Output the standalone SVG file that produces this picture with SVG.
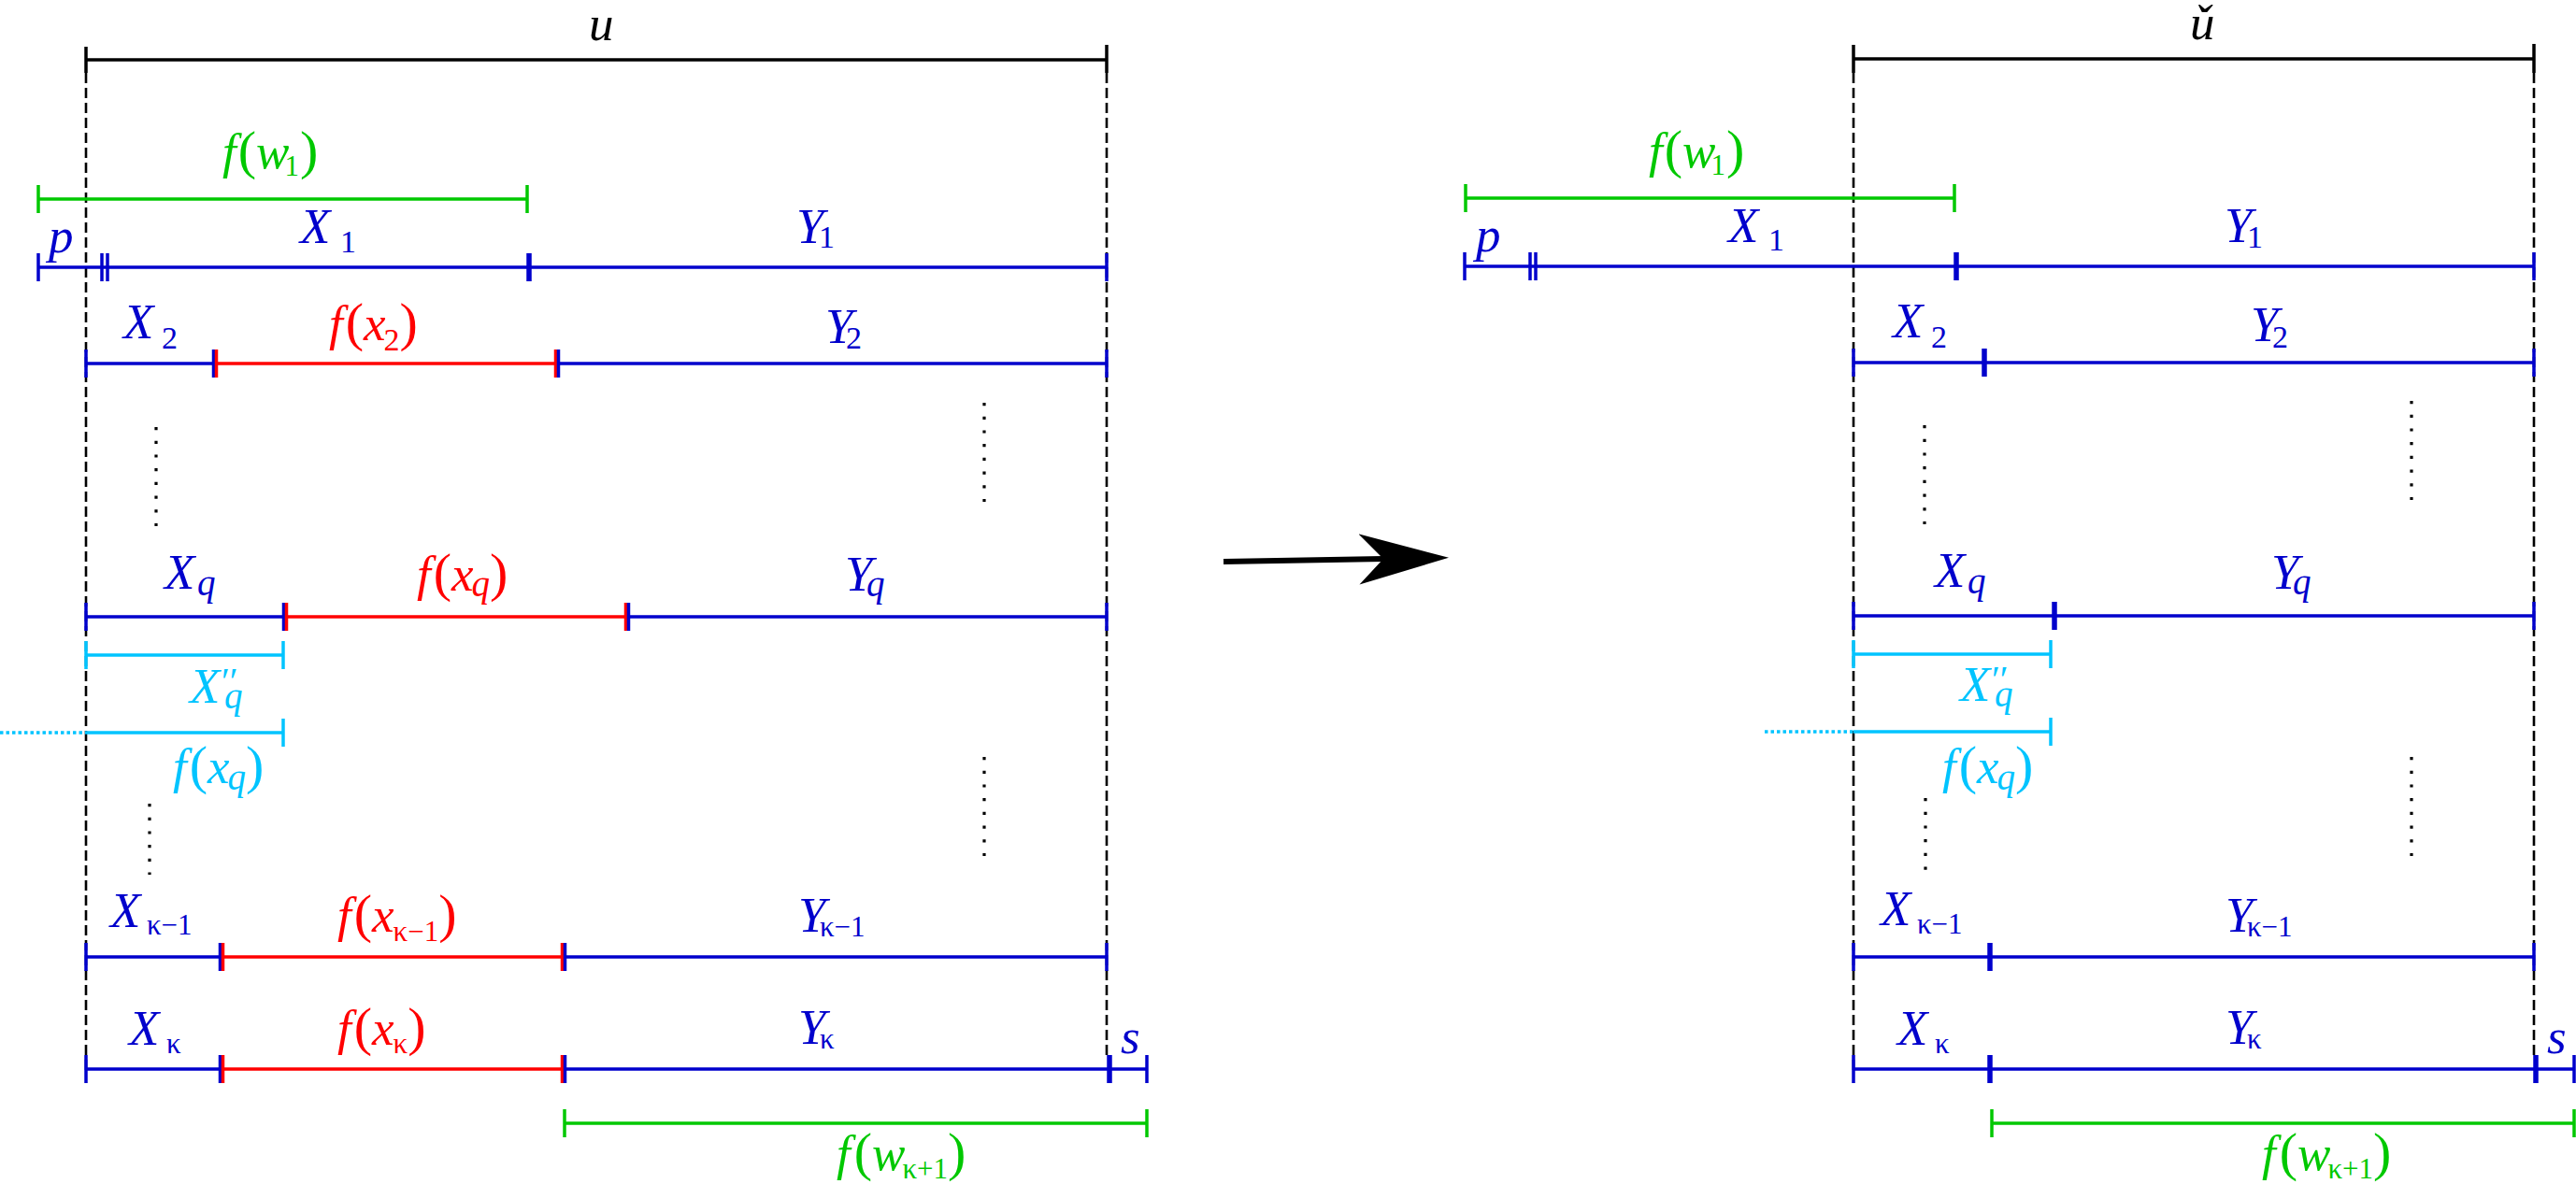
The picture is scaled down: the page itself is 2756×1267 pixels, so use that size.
<svg xmlns="http://www.w3.org/2000/svg" width="2756" height="1267" viewBox="0 0 2756 1267">
<style>
.b{stroke:#0000cc;stroke-width:3.5;fill:none}
.r{stroke:#ff0000;stroke-width:3.5;fill:none}
.g{stroke:#00c800;stroke-width:3.5;fill:none}
.c{stroke:#00c4ff;stroke-width:3.5;fill:none}
.k{stroke:#000;stroke-width:3.5;fill:none}
.tk{stroke-width:5.5}
.dash{stroke:#000;stroke-width:2.6;stroke-dasharray:11 5;fill:none}
.dots{stroke:#000;stroke-width:3.2;stroke-dasharray:3.2 11.5;fill:none}
.cdot{stroke:#00c4ff;stroke-width:3.5;stroke-dasharray:3.5 3;fill:none}
text{font-family:"Liberation Serif","Times New Roman",serif;font-style:italic;font-size:53px}
.n{font-style:normal;font-size:58px}
.s{font-style:normal;font-size:34px}
.sk{font-style:normal;font-size:31px}
.sq{font-style:italic;font-size:39px}
.pr{font-style:normal;font-size:40px}
.tb{fill:#0000cc}.tr{fill:#ff0000}.tg{fill:#00c800}.tc{fill:#00c4ff}.tkk{fill:#000}
</style>
<defs>
<marker id="ah" markerUnits="userSpaceOnUse" markerWidth="100" markerHeight="60" refX="26" refY="27" orient="auto">
<path d="M0,0 L96,27 L0,54 L26,27 z" fill="#000"/>
</marker>
</defs>

<!-- LEFT PANEL -->
<g id="left-frame">
<line class="k" x1="92" y1="64" x2="1184" y2="64"/>
<line class="k" x1="92" y1="50" x2="92" y2="78"/>
<line class="k" x1="1184" y1="48" x2="1184" y2="78"/>
<line class="dash" x1="92" y1="78" x2="92" y2="1150"/>
<line class="dash" x1="1184" y1="78" x2="1184" y2="1132"/>
<text class="tkk" x="630" y="43">u</text>
</g>
<g id="left-fw1">
<line class="g" x1="41" y1="213" x2="564" y2="213"/>
<line class="g" x1="41" y1="198" x2="41" y2="228"/>
<line class="g" x1="564" y1="198" x2="564" y2="228"/>
<text class="tg" x="238" y="180">f<tspan class="n" dx="2">(</tspan>w<tspan class="sk" dx="-5" y="188">1</tspan><tspan class="n" dx="1" y="180">)</tspan></text>
</g>
<g id="left-row1">
<line class="b" x1="41" y1="286" x2="1184" y2="286"/>
<line class="b" x1="41" y1="271" x2="41" y2="301"/>
<line class="b" x1="109" y1="271" x2="109" y2="301"/>
<line class="b" x1="115" y1="271" x2="115" y2="301"/>
<line class="b tk" x1="566" y1="271" x2="566" y2="301"/>
<line class="b" x1="1184" y1="271" x2="1184" y2="301"/>
<text class="tb" x="52" y="270">p</text>
<text class="tb" x="321" y="260">X<tspan class="s" x="364" y="270">1</tspan></text>
<text class="tb" x="852" y="260">Y<tspan class="s" x="876" y="265">1</tspan></text>
</g>
<g id="left-row2">
<line class="b" x1="92" y1="389" x2="230" y2="389"/>
<line class="r" x1="230" y1="389" x2="596" y2="389"/>
<line class="b" x1="596" y1="389" x2="1184" y2="389"/>
<line class="b" x1="92" y1="374" x2="92" y2="404"/>
<line class="b" x1="228.5" y1="374" x2="228.5" y2="404"/>
<line class="r" x1="231.5" y1="374" x2="231.5" y2="404"/>
<line class="r" x1="594.5" y1="374" x2="594.5" y2="404"/>
<line class="b" x1="597.5" y1="374" x2="597.5" y2="404"/>
<line class="b" x1="1184" y1="374" x2="1184" y2="404"/>
<text class="tb" x="132" y="362">X<tspan class="s" x="173" y="373">2</tspan></text>
<text class="tr" x="352" y="364">f<tspan class="n" dx="3">(</tspan>x<tspan class="s" dx="-2" y="375">2</tspan><tspan class="n" y="364">)</tspan></text>
<text class="tb" x="883" y="367">Y<tspan class="s" x="905" y="373">2</tspan></text>
</g>
<g id="left-dots-upper">
<line class="dots" x1="167" y1="457" x2="167" y2="566"/>
<line class="dots" x1="1053" y1="431" x2="1053" y2="540"/>
</g>
<g id="left-rowq">
<line class="b" x1="92" y1="660" x2="305" y2="660"/>
<line class="r" x1="305" y1="660" x2="671" y2="660"/>
<line class="b" x1="671" y1="660" x2="1184" y2="660"/>
<line class="b" x1="92" y1="645" x2="92" y2="675"/>
<line class="b" x1="303.5" y1="645" x2="303.5" y2="675"/>
<line class="r" x1="306.5" y1="645" x2="306.5" y2="675"/>
<line class="r" x1="669.5" y1="645" x2="669.5" y2="675"/>
<line class="b" x1="672.5" y1="645" x2="672.5" y2="675"/>
<line class="b" x1="1184" y1="645" x2="1184" y2="675"/>
<text class="tb" x="176" y="630">X<tspan class="sq" x="211" y="637">q</tspan></text>
<text class="tr" x="446" y="632">f<tspan class="n" dx="3">(</tspan>x<tspan class="sq" dx="-2" y="638">q</tspan><tspan class="n" y="632">)</tspan></text>
<text class="tb" x="904" y="632">Y<tspan class="sq" x="927" y="638">q</tspan></text>
</g>
<g id="left-xq2">
<line class="c" x1="92" y1="701" x2="303" y2="701"/>
<line class="c" x1="92" y1="686" x2="92" y2="716"/>
<line class="c" x1="303" y1="686" x2="303" y2="716"/>
<text class="tc" x="203" y="752">X<tspan class="sq" x="240" y="758">q</tspan><tspan class="pr" x="237" y="742">′′</tspan></text>
</g>
<g id="left-fxq-cyan">
<line class="cdot" x1="0" y1="784" x2="92" y2="784"/>
<line class="c" x1="92" y1="784" x2="303" y2="784"/>
<line class="c" x1="303" y1="769" x2="303" y2="799"/>
<text class="tc" x="185" y="838">f<tspan class="n" dx="3">(</tspan>x<tspan class="sq" dx="-2" y="845">q</tspan><tspan class="n" y="838">)</tspan></text>
</g>
<g id="left-dots-lower">
<line class="dots" x1="160" y1="860" x2="160" y2="936"/>
<line class="dots" x1="1053" y1="810" x2="1053" y2="917"/>
</g>
<g id="left-rowk1">
<line class="b" x1="92" y1="1024" x2="237" y2="1024"/>
<line class="r" x1="237" y1="1024" x2="603" y2="1024"/>
<line class="b" x1="603" y1="1024" x2="1184" y2="1024"/>
<line class="b" x1="92" y1="1009" x2="92" y2="1039"/>
<line class="b" x1="235.5" y1="1009" x2="235.5" y2="1039"/>
<line class="r" x1="238.5" y1="1009" x2="238.5" y2="1039"/>
<line class="r" x1="601.5" y1="1009" x2="601.5" y2="1039"/>
<line class="b" x1="604.5" y1="1009" x2="604.5" y2="1039"/>
<line class="b" x1="1184" y1="1009" x2="1184" y2="1039"/>
<text class="tb" x="118" y="992">X<tspan class="sk" x="157" y="1000">κ−1</tspan></text>
<text class="tr" x="361" y="997">f<tspan class="n" dx="3">(</tspan>x<tspan class="sk" dx="-1" y="1007">κ−1</tspan><tspan class="n" y="997">)</tspan></text>
<text class="tb" x="854" y="997">Y<tspan class="sk" x="877" y="1002">κ−1</tspan></text>
</g>
<g id="left-rowk">
<line class="b" x1="92" y1="1144" x2="237" y2="1144"/>
<line class="r" x1="237" y1="1144" x2="603" y2="1144"/>
<line class="b" x1="603" y1="1144" x2="1227" y2="1144"/>
<line class="b" x1="92" y1="1129" x2="92" y2="1159"/>
<line class="b" x1="235.5" y1="1129" x2="235.5" y2="1159"/>
<line class="r" x1="238.5" y1="1129" x2="238.5" y2="1159"/>
<line class="r" x1="601.5" y1="1129" x2="601.5" y2="1159"/>
<line class="b" x1="604.5" y1="1129" x2="604.5" y2="1159"/>
<line class="b tk" x1="1187" y1="1129" x2="1187" y2="1159"/>
<line class="b" x1="1227" y1="1129" x2="1227" y2="1159"/>
<text class="tb" x="138" y="1118">X<tspan class="sk" x="178" y="1127">κ</tspan></text>
<text class="tr" x="361" y="1118">f<tspan class="n" dx="3">(</tspan>x<tspan class="sk" dx="-1" y="1127">κ</tspan><tspan class="n" y="1118">)</tspan></text>
<text class="tb" x="854" y="1117">Y<tspan class="sk" x="877" y="1122">κ</tspan></text>
<text class="tb" x="1199" y="1127">s</text>
</g>
<g id="left-fwk1">
<line class="g" x1="604" y1="1202" x2="1227" y2="1202"/>
<line class="g" x1="604" y1="1187" x2="604" y2="1217"/>
<line class="g" x1="1227" y1="1187" x2="1227" y2="1217"/>
<text class="tg" x="895" y="1252">f<tspan class="n" dx="4">(</tspan>w<tspan class="sk" dx="-3" y="1261">κ+1</tspan><tspan class="n" y="1252">)</tspan></text>
</g>

<!-- RIGHT PANEL -->
<g id="right-frame">
<line class="k" x1="1983" y1="63" x2="2711" y2="63"/>
<line class="k" x1="1983" y1="48" x2="1983" y2="78"/>
<line class="k" x1="2711" y1="47" x2="2711" y2="78"/>
<line class="dash" x1="1983" y1="78" x2="1983" y2="1150"/>
<line class="dash" x1="2711" y1="78" x2="2711" y2="1132"/>
<text class="tkk" x="2343" y="42">ǔ</text>
</g>
<g id="right-fw1">
<line class="g" x1="1568" y1="212" x2="2091" y2="212"/>
<line class="g" x1="1568" y1="197" x2="1568" y2="227"/>
<line class="g" x1="2091" y1="197" x2="2091" y2="227"/>
<text class="tg" x="1764" y="179">f<tspan class="n" dx="2">(</tspan>w<tspan class="sk" dx="-5" y="187">1</tspan><tspan class="n" dx="1" y="179">)</tspan></text>
</g>
<g id="right-row1">
<line class="b" x1="1567" y1="285" x2="2711" y2="285"/>
<line class="b" x1="1567" y1="270" x2="1567" y2="300"/>
<line class="b" x1="1637" y1="270" x2="1637" y2="300"/>
<line class="b" x1="1643" y1="270" x2="1643" y2="300"/>
<line class="b tk" x1="2093" y1="270" x2="2093" y2="300"/>
<line class="b" x1="2711" y1="270" x2="2711" y2="300"/>
<text class="tb" x="1579" y="269">p</text>
<text class="tb" x="1849" y="259">X<tspan class="s" x="1892" y="268">1</tspan></text>
<text class="tb" x="2380" y="259">Y<tspan class="s" x="2404" y="265">1</tspan></text>
</g>
<g id="right-row2">
<line class="b" x1="1983" y1="388" x2="2711" y2="388"/>
<line class="b" x1="1983" y1="373" x2="1983" y2="403"/>
<line class="b tk" x1="2123" y1="373" x2="2123" y2="403"/>
<line class="b" x1="2711" y1="373" x2="2711" y2="403"/>
<text class="tb" x="2025" y="361">X<tspan class="s" x="2066" y="372">2</tspan></text>
<text class="tb" x="2408" y="365">Y<tspan class="s" x="2431" y="372">2</tspan></text>
</g>
<g id="right-dots-upper">
<line class="dots" x1="2059" y1="455" x2="2059" y2="566"/>
<line class="dots" x1="2580" y1="429" x2="2580" y2="540"/>
</g>
<g id="right-rowq">
<line class="b" x1="1983" y1="659" x2="2711" y2="659"/>
<line class="b" x1="1983" y1="644" x2="1983" y2="674"/>
<line class="b tk" x1="2198" y1="644" x2="2198" y2="674"/>
<line class="b" x1="2711" y1="644" x2="2711" y2="674"/>
<text class="tb" x="2070" y="628">X<tspan class="sq" x="2105" y="635">q</tspan></text>
<text class="tb" x="2430" y="630">Y<tspan class="sq" x="2453" y="636">q</tspan></text>
</g>
<g id="right-xq2">
<line class="c" x1="1983" y1="700" x2="2194" y2="700"/>
<line class="c" x1="1983" y1="685" x2="1983" y2="715"/>
<line class="c" x1="2194" y1="685" x2="2194" y2="715"/>
<text class="tc" x="2097" y="750">X<tspan class="sq" x="2134" y="756">q</tspan><tspan class="pr" x="2131" y="740">′′</tspan></text>
</g>
<g id="right-fxq-cyan">
<line class="cdot" x1="1888" y1="783" x2="1983" y2="783"/>
<line class="c" x1="1983" y1="783" x2="2194" y2="783"/>
<line class="c" x1="2194" y1="768" x2="2194" y2="798"/>
<text class="tc" x="2078" y="838">f<tspan class="n" dx="3">(</tspan>x<tspan class="sq" dx="-2" y="845">q</tspan><tspan class="n" y="838">)</tspan></text>
</g>
<g id="right-dots-lower">
<line class="dots" x1="2060" y1="854" x2="2060" y2="932"/>
<line class="dots" x1="2580" y1="810" x2="2580" y2="917"/>
</g>
<g id="right-rowk1">
<line class="b" x1="1983" y1="1024" x2="2711" y2="1024"/>
<line class="b" x1="1983" y1="1009" x2="1983" y2="1039"/>
<line class="b tk" x1="2129" y1="1009" x2="2129" y2="1039"/>
<line class="b" x1="2711" y1="1009" x2="2711" y2="1039"/>
<text class="tb" x="2012" y="990">X<tspan class="sk" x="2051" y="999">κ−1</tspan></text>
<text class="tb" x="2381" y="997">Y<tspan class="sk" x="2404" y="1002">κ−1</tspan></text>
</g>
<g id="right-rowk">
<line class="b" x1="1983" y1="1144" x2="2754" y2="1144"/>
<line class="b" x1="1983" y1="1129" x2="1983" y2="1159"/>
<line class="b tk" x1="2129" y1="1129" x2="2129" y2="1159"/>
<line class="b tk" x1="2713" y1="1129" x2="2713" y2="1159"/>
<line class="b" x1="2754" y1="1129" x2="2754" y2="1159"/>
<text class="tb" x="2030" y="1118">X<tspan class="sk" x="2070" y="1127">κ</tspan></text>
<text class="tb" x="2381" y="1117">Y<tspan class="sk" x="2404" y="1122">κ</tspan></text>
<text class="tb" x="2725" y="1127">s</text>
</g>
<g id="right-fwk1">
<line class="g" x1="2131" y1="1202" x2="2754" y2="1202"/>
<line class="g" x1="2131" y1="1187" x2="2131" y2="1217"/>
<line class="g" x1="2754" y1="1187" x2="2754" y2="1217"/>
<text class="tg" x="2420" y="1252">f<tspan class="n" dx="4">(</tspan>w<tspan class="sk" dx="-3" y="1261">κ+1</tspan><tspan class="n" y="1252">)</tspan></text>
</g>

<g id="connectors">
<line x1="1309" y1="601" x2="1480" y2="598" stroke="#000" stroke-width="6" marker-end="url(#ah)"/>
</g>
</svg>
